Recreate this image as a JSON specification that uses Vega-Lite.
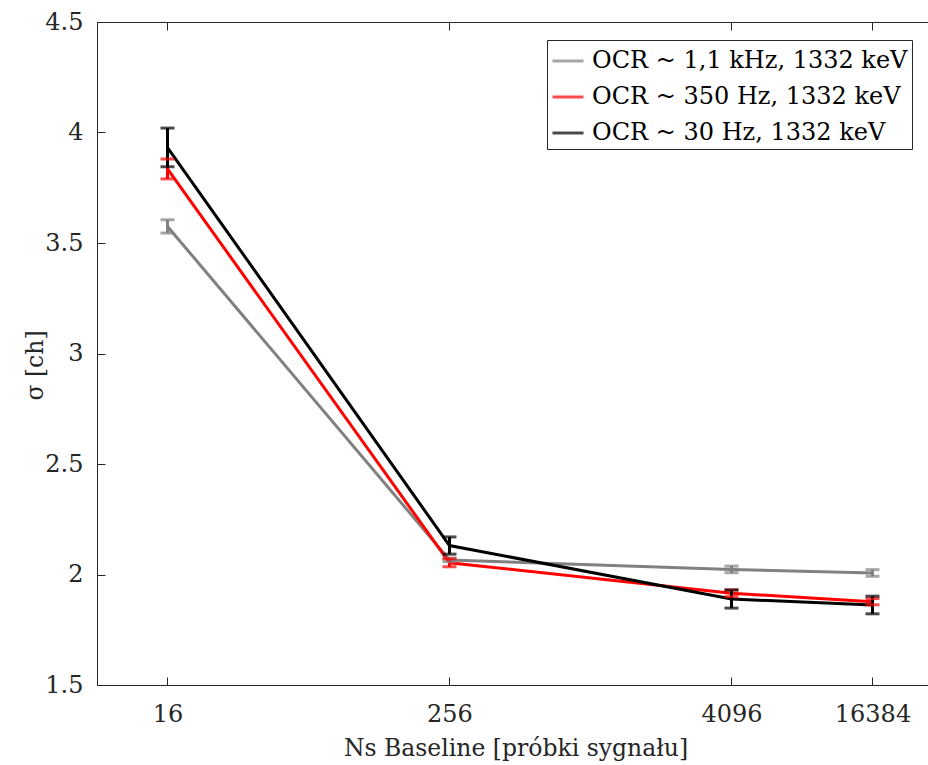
{
  "$schema": "https://vega.github.io/schema/vega-lite/v6.json",
  "autosize": "none",
  "padding": {"left": 97, "top": 22, "right": 0, "bottom": 80},
  "width": 837,
  "height": 663,
  "background": "white",
  "config": {
    "font": "DejaVu Serif",
    "view": {"stroke": "#262626", "strokeWidth": 1},
    "axis": {
      "grid": false,
      "domainColor": "#262626",
      "domainWidth": 1,
      "tickColor": "#262626",
      "tickWidth": 1,
      "tickSize": -8,
      "labelFont": "DejaVu Serif",
      "labelFontSize": 24,
      "labelColor": "#262626",
      "titleFont": "DejaVu Serif",
      "titleFontSize": 23.5,
      "titleFontWeight": "normal",
      "titleColor": "#262626"
    },
    "legend": {
      "orient": "none",
      "legendX": 450,
      "legendY": 18,
      "title": null,
      "labelFont": "DejaVu Serif",
      "labelFontSize": 24,
      "labelColor": "black",
      "labelLimit": 0,
      "symbolType": "stroke",
      "symbolSize": 961,
      "symbolStrokeWidth": 3,
      "strokeColor": "#262626",
      "fillColor": "white",
      "padding": 4,
      "rowPadding": 7,
      "labelOffset": 7
    }
  },
  "data": {
    "values": [
      {"ns": 16, "series": "OCR ~ 1,1 kHz, 1332 keV", "sigma": 3.575, "lo": 3.545, "hi": 3.605},
      {"ns": 256, "series": "OCR ~ 1,1 kHz, 1332 keV", "sigma": 2.066, "lo": 2.058, "hi": 2.074},
      {"ns": 4096, "series": "OCR ~ 1,1 kHz, 1332 keV", "sigma": 2.023, "lo": 2.008, "hi": 2.038},
      {"ns": 16384, "series": "OCR ~ 1,1 kHz, 1332 keV", "sigma": 2.007, "lo": 1.992, "hi": 2.022},
      {"ns": 16, "series": "OCR ~ 350 Hz, 1332 keV", "sigma": 3.835, "lo": 3.79, "hi": 3.88},
      {"ns": 256, "series": "OCR ~ 350 Hz, 1332 keV", "sigma": 2.053, "lo": 2.035, "hi": 2.071},
      {"ns": 4096, "series": "OCR ~ 350 Hz, 1332 keV", "sigma": 1.915, "lo": 1.9, "hi": 1.93},
      {"ns": 16384, "series": "OCR ~ 350 Hz, 1332 keV", "sigma": 1.877, "lo": 1.863, "hi": 1.891},
      {"ns": 16, "series": "OCR ~ 30 Hz, 1332 keV", "sigma": 3.932, "lo": 3.845, "hi": 4.02},
      {"ns": 256, "series": "OCR ~ 30 Hz, 1332 keV", "sigma": 2.131, "lo": 2.092, "hi": 2.17},
      {"ns": 4096, "series": "OCR ~ 30 Hz, 1332 keV", "sigma": 1.889, "lo": 1.848, "hi": 1.93},
      {"ns": 16384, "series": "OCR ~ 30 Hz, 1332 keV", "sigma": 1.862, "lo": 1.822, "hi": 1.902}
    ]
  },
  "encoding": {
    "color": {
      "field": "series",
      "type": "nominal",
      "scale": {
        "domain": ["OCR ~ 1,1 kHz, 1332 keV", "OCR ~ 350 Hz, 1332 keV", "OCR ~ 30 Hz, 1332 keV"],
        "range": ["#808080", "#ff0000", "#000000"]
      }
    }
  },
  "resolve": {"axis": {"x": "independent", "y": "independent"}},
  "layer": [
    {
      "mark": {"type": "line", "strokeWidth": 3},
      "encoding": {
        "x": {
          "field": "ns",
          "type": "quantitative",
          "scale": {"type": "log", "base": 2, "domain": [8, 30000], "nice": false},
          "axis": {
            "orient": "bottom",
            "values": [16, 256, 4096, 16384],
            "format": "d",
            "labelPadding": 25,
            "title": "Ns Baseline [próbki sygnału]",
            "titlePadding": 10
          }
        },
        "y": {
          "field": "sigma",
          "type": "quantitative",
          "scale": {"domain": [1.5, 4.5], "nice": false, "zero": false},
          "axis": {
            "orient": "left",
            "values": [1.5, 2, 2.5, 3, 3.5, 4, 4.5],
            "format": "~g",
            "labelPadding": 22,
            "title": "σ [ch]",
            "titleX": -62,
            "titleY": 343,
            "titleBaseline": "middle",
            "titleAngle": -90
          }
        }
      }
    },
    {
      "mark": {"type": "rule", "strokeWidth": 3},
      "encoding": {
        "x": {
          "field": "ns",
          "type": "quantitative",
          "axis": {"orient": "top", "values": [16, 256, 4096, 16384], "labels": false, "title": null, "domain": false}
        },
        "y": {"field": "lo", "type": "quantitative", "axis": null},
        "y2": {"field": "hi"}
      }
    },
    {
      "mark": {"type": "tick", "orient": "horizontal", "size": 14, "thickness": 3},
      "encoding": {
        "x": {"field": "ns", "type": "quantitative", "axis": null},
        "y": {"field": "lo", "type": "quantitative", "axis": null}
      }
    },
    {
      "mark": {"type": "tick", "orient": "horizontal", "size": 14, "thickness": 3},
      "encoding": {
        "x": {"field": "ns", "type": "quantitative", "axis": null},
        "y": {"field": "hi", "type": "quantitative", "axis": null}
      }
    }
  ]
}
